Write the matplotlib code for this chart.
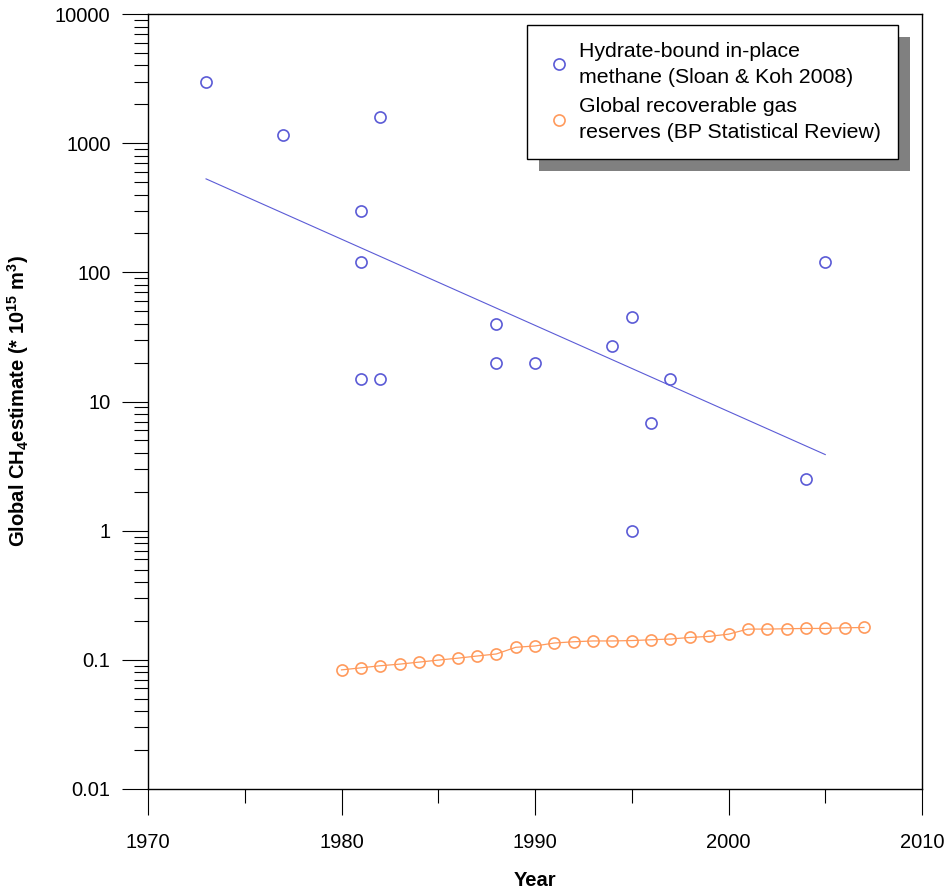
import numpy as np
import matplotlib
matplotlib.use('Agg')
import matplotlib.pyplot as plt
from matplotlib.patches import Rectangle
from matplotlib.transforms import IdentityTransform

plt.rcParams['font.family'] = ['Liberation Sans', 'DejaVu Sans']
plt.rcParams['mathtext.default'] = 'regular'

# hydrate-bound in-place methane estimates (Sloan & Koh 2008)
hyd_years = [1973, 1977, 1982, 1981, 1981, 1981, 1982, 1988, 1988, 1990,
             1994, 1995, 1995, 1996, 1997, 2004, 2005]
hyd_vals = [3000, 1150, 1600, 300, 120, 15, 15, 40, 20, 20,
            27, 45, 1.0, 6.8, 15, 2.5, 120]

# global recoverable gas reserves (BP Statistical Review)
bp_years = [1980, 1981, 1982, 1983, 1984, 1985, 1986, 1987, 1988, 1989,
            1990, 1991, 1992, 1993, 1994, 1995, 1996, 1997, 1998, 1999,
            2000, 2001, 2002, 2003, 2004, 2005, 2006, 2007]
bp_vals = [0.0836, 0.0867, 0.090, 0.0926, 0.096, 0.0995, 0.103, 0.107, 0.111, 0.125,
           0.128, 0.135, 0.138, 0.140, 0.140, 0.141, 0.143, 0.145, 0.149, 0.152,
           0.158, 0.173, 0.173, 0.174, 0.175, 0.175, 0.177, 0.178]

ytick_vals = [0.01, 0.1, 1, 10, 100, 1000, 10000]
ytick_labels = ['0.01', '0.1', '1', '10', '100', '1000', '10000']
xtick_vals = [1970, 1980, 1990, 2000, 2010]

blue = '#5b5bd6'
orange = '#ff9a5c'

fig = plt.figure(figsize=(9.48, 8.92), dpi=100)
ax = fig.add_axes([148 / 948, 1 - 789 / 892, 774 / 948, 775 / 892])

# log-linear least squares trend for the hydrate estimates
coef = np.polyfit(hyd_years, np.log10(hyd_vals), 1)
fit_x = np.array([min(hyd_years), max(hyd_years)])
ax.plot(fit_x, 10 ** np.polyval(coef, fit_x), color=blue, lw=0.8)
ax.plot(hyd_years, hyd_vals, 'o', mfc='none', mec=blue, ms=8, mew=1.2,
        label='Hydrate-bound in-place\nmethane (Sloan & Koh 2008)')

ax.plot(bp_years, bp_vals, '-', color=orange, lw=0.9)
ax.plot(bp_years, bp_vals, 'o', mfc='none', mec=orange, ms=8, mew=1.2,
        label='Global recoverable gas\nreserves (BP Statistical Review)')

ax.set_yscale('log')
ax.set_xlim(1970, 2010)
ax.set_ylim(0.01, 10000)
ax.set_yticks(ytick_vals)
ax.set_yticklabels(ytick_labels)
ax.set_xticks(xtick_vals)
ax.set_xticks([1975, 1985, 1995, 2005], minor=True)

ax.tick_params(which='major', length=19, width=0.8, labelsize=14.5, direction='out')
ax.tick_params(which='minor', length=10, width=0.8, direction='out')
ax.tick_params(axis='y', which='major', pad=8)
ax.tick_params(axis='x', which='major', pad=13)
for s in ax.spines.values():
    s.set_linewidth(1.0)

ax.set_xlabel('Year', fontsize=14.5, fontweight='bold', labelpad=13)
ax.set_ylabel(r'Global CH$_4$estimate (* 10$^{15}$ m$^3$)', fontsize=14.5,
              fontweight='bold', labelpad=17)

leg = ax.legend(loc='upper left', bbox_to_anchor=(527 / 948, 1 - 25 / 892),
                bbox_transform=fig.transFigure, borderaxespad=0,
                fontsize=15.3, frameon=True, fancybox=False, framealpha=1,
                edgecolor='black', handlelength=1.4, handletextpad=0.25,
                borderpad=0.8, labelspacing=0.5)
leg.get_frame().set_linewidth(1.0)
leg.set_zorder(5)
for t in leg.get_texts():
    t.set_linespacing(1.45)

# drop shadow behind the legend box
fig.canvas.draw()
bb = leg.get_window_extent()
shadow = Rectangle((bb.x0 + 12, bb.y0 - 12), bb.width, bb.height,
                   transform=IdentityTransform(), facecolor='#808080',
                   edgecolor='none', zorder=4)
ax.add_patch(shadow)

fig.savefig('out.png', dpi=100)
